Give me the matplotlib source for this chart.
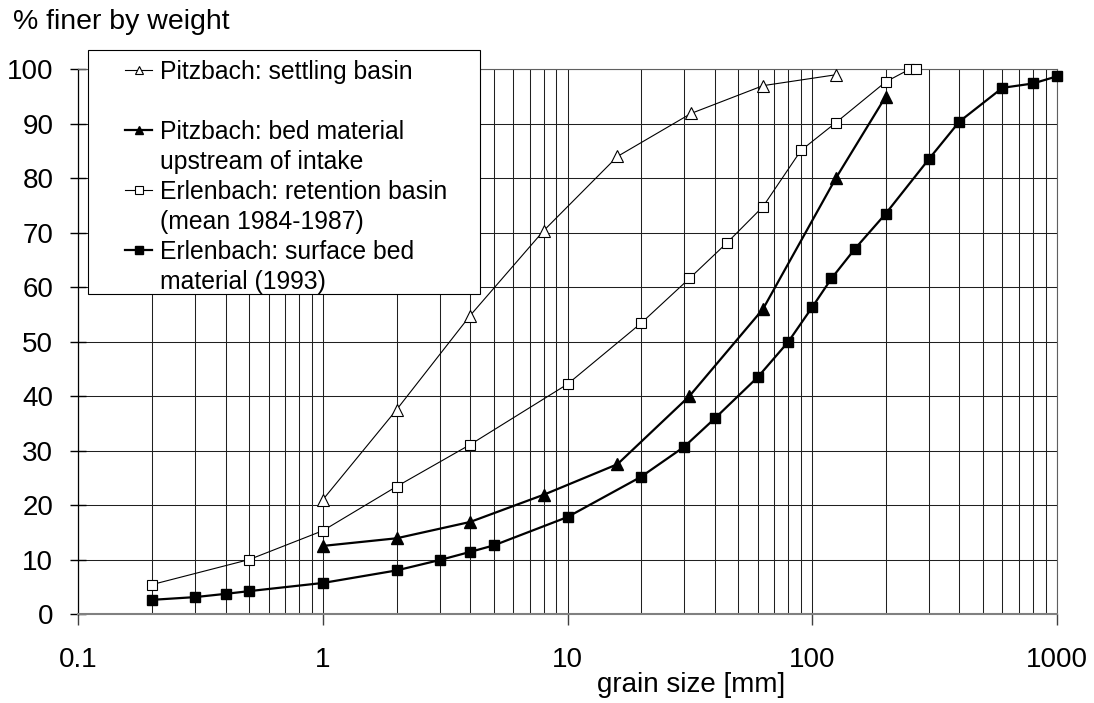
import numpy as np
import matplotlib
matplotlib.use("Agg")
import matplotlib.pyplot as plt
from matplotlib.lines import Line2D
from matplotlib.patches import Rectangle
from matplotlib.ticker import LogLocator, NullFormatter

plt.rcParams['font.family'] = ['Liberation Sans', 'DejaVu Sans']

# grain size curves
settling_x = [1, 2, 4, 8, 16, 32, 63, 125]
settling_y = [21.0, 37.5, 54.8, 70.4, 84.0, 91.9, 97.0, 99.0]

bed_x = [1, 2, 4, 8, 16, 31.5, 63, 125, 200]
bed_y = [12.5, 13.9, 16.9, 21.9, 27.5, 40.0, 56.0, 80.0, 95.0]

ret_x = [0.2, 0.5, 1, 2, 4, 10, 20, 31.5, 45, 63, 90, 125, 200, 250, 265]
ret_y = [5.4, 10.0, 15.3, 23.4, 31.1, 42.2, 53.4, 61.6, 68.2, 74.8, 85.1, 90.2, 97.7, 100.0, 100.1]

surf_x = [0.2, 0.3, 0.4, 0.5, 1, 2, 3, 4, 5, 10, 20, 30, 40, 60, 80, 100,
          120, 150, 200, 300, 400, 600, 800, 1000]
surf_y = [2.6, 3.1, 3.7, 4.2, 5.7, 8.0, 9.9, 11.4, 12.6, 17.8, 25.2, 30.7, 35.9,
          43.5, 50.0, 56.3, 61.6, 67.1, 73.5, 83.5, 90.4, 96.6, 97.4, 98.7]

x_ticks = [0.1, 1, 10, 100, 1000]
x_ticklabels = ['0.1', '1', '10', '100', '1000']
y_ticks = list(range(0, 101, 10))

fig = plt.figure(figsize=(10.94, 7.03), dpi=100)
ax = fig.add_axes([0.0716, 0.1266, 0.8943, 0.7748])

# thin series with open markers, thick series with filled markers
l1, = ax.plot(settling_x, settling_y, color='black', lw=0.8, marker='^', ms=8,
              mfc='white', mec='black', mew=0.8, clip_on=False, zorder=3)
l2, = ax.plot(bed_x, bed_y, color='black', lw=1.6, marker='^', ms=8,
              mfc='black', mec='black', clip_on=False, zorder=3)
l3, = ax.plot(ret_x, ret_y, color='black', lw=0.8, marker='s', ms=7,
              mfc='white', mec='black', mew=0.8, clip_on=False, zorder=3)
l4, = ax.plot(surf_x, surf_y, color='black', lw=1.6, marker='s', ms=7,
              mfc='black', mec='black', clip_on=False, zorder=3)

ax.set_xscale('log')
ax.set_xlim(0.1, 1000)
ax.set_ylim(0, 100)
ax.set_xticks(x_ticks)
ax.set_xticklabels(x_ticklabels)
ax.xaxis.set_minor_locator(LogLocator(base=10, subs=np.arange(2, 10)))
ax.xaxis.set_minor_formatter(NullFormatter())
ax.set_yticks(y_ticks)

ax.grid(True, which='both', axis='x', color='#202020', lw=0.75)
ax.grid(True, which='major', axis='y', color='#202020', lw=0.75)
ax.set_axisbelow(True)

ax.tick_params(axis='x', which='major', direction='out', length=8, width=1,
               color='#404040', labelsize=20, pad=16)
ax.tick_params(axis='x', which='minor', length=0)
ax.tick_params(axis='y', direction='inout', length=12, width=1,
               color='black', labelsize=20, pad=12)

for side in ['top', 'right']:
    ax.spines[side].set_color('#606060')
    ax.spines[side].set_linewidth(0.8)
ax.spines['left'].set_color('black')
ax.spines['left'].set_linewidth(0.9)
ax.spines['bottom'].set_color('#808080')
ax.spines['bottom'].set_linewidth(1.5)

ax.set_xlabel('grain size [mm]', fontsize=20, va='center')
ax.xaxis.set_label_coords(0.626, -0.131)
fig.text(13 / 1094, 1 - 29 / 703, '% finer by weight', fontsize=20.5,
         ha='left', va='baseline')

# legend: box drawn separately so the padding matches the original
box = Rectangle((88 / 1094, 1 - 294 / 703), 392 / 1094, 244 / 703,
                transform=fig.transFigure, facecolor='white',
                edgecolor='black', lw=0.8, zorder=4)
fig.add_artist(box)

blank = Line2D([], [], color='none')
handles = [l1, blank, l2, blank, l3, blank, l4, blank]
labels = ['Pitzbach: settling basin', ' ',
          'Pitzbach: bed material', 'upstream of intake',
          'Erlenbach: retention basin', '(mean 1984-1987)',
          'Erlenbach: surface bed', 'material (1993)']
leg = fig.legend(handles, labels, loc='upper left',
                 bbox_to_anchor=(125 / 1094, 1 - 60 / 703),
                 bbox_transform=fig.transFigure, frameon=False,
                 borderpad=0, borderaxespad=0, fontsize=17.8,
                 handlelength=1.1, handletextpad=0.33, labelspacing=0.24,
                 numpoints=1, markerscale=0.8)
leg.set_zorder(5)

fig.savefig('out.png', dpi=100)
